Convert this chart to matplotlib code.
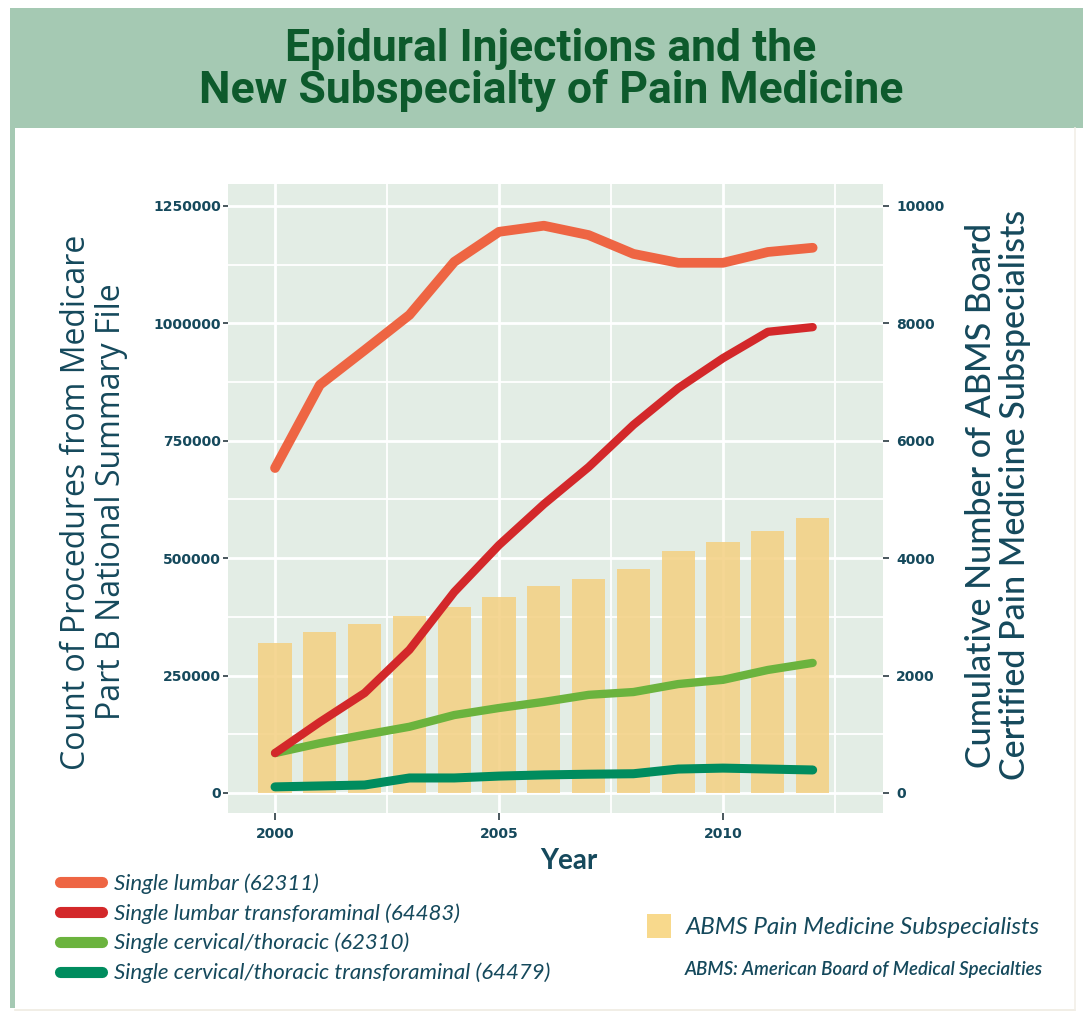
import matplotlib
matplotlib.use("Agg")
import matplotlib.pyplot as plt
from matplotlib.patches import Rectangle, Patch
from matplotlib.lines import Line2D

# ---------------- data ----------------
years = [2000, 2001, 2002, 2003, 2004, 2005, 2006, 2007, 2008, 2009, 2010, 2011, 2012]
single_lumbar = [692000, 869000, 943000, 1018000, 1131000, 1195000, 1208000,
                 1188000, 1148000, 1129000, 1129000, 1152000, 1161000]
lumbar_transforaminal = [85000, 151000, 213000, 305000, 428000, 528000, 615000,
                         694000, 784000, 862000, 926000, 982000, 992000]
cervical_thoracic = [85000, 106000, 124000, 141000, 166000, 181000, 194000,
                     209000, 215000, 232000, 241000, 262000, 277000]
cervical_transforaminal = [13000, 15000, 17000, 32000, 32000, 36000, 38500,
                           40000, 41000, 51000, 53000, 51000, 49000]
abms_subspecialists = [2555, 2743, 2879, 3015, 3169, 3339, 3526,
                       3646, 3816, 4123, 4276, 4463, 4685]

series_labels = ["Single lumbar (62311)",
                 "Single lumbar transforaminal (64483)",
                 "Single cervical/thoracic (62310)",
                 "Single cervical/thoracic transforaminal (64479)"]
bar_label = "ABMS Pain Medicine Subspecialists"
left_ticks = [0, 250000, 500000, 750000, 1000000, 1250000]
right_ticks = [0, 2000, 4000, 6000, 8000, 10000]
x_ticks = [2000, 2005, 2010]

# ---------------- style ----------------
C_ORANGE = "#EE6543"
C_RED = "#D3282A"
C_LGREEN = "#6BB33E"
C_DGREEN = "#008C5E"
C_BAR = "#F4D185"
C_PANEL = "#E3EDE5"
C_BAND = "#A5C9B3"
C_TITLE = "#0D5A2C"
C_TEXT = "#15495C"

W, H = 1083, 1014
fig = plt.figure(figsize=(W / 100, H / 100), dpi=100)
fig.patch.set_facecolor("white")

# frame decoration
fig.add_artist(Rectangle((10 / W, 1 - 128 / H), 1 - 10 / W, 120 / H,
                         transform=fig.transFigure, facecolor=C_BAND, edgecolor="none", zorder=0))
fig.add_artist(Rectangle((10 / W, 1 - 1008 / H), 5 / W, (1008 - 128) / H,
                         transform=fig.transFigure, facecolor=C_BAND, edgecolor="none", zorder=0))
fig.add_artist(Line2D([15 / W, 1075 / W], [1 - 1010 / H, 1 - 1010 / H],
                      transform=fig.transFigure, color="#EFEBE2", lw=1.2))
fig.add_artist(Line2D([1075 / W, 1075 / W], [1 - 128 / H, 1 - 1010 / H],
                      transform=fig.transFigure, color="#F2EFE8", lw=1.2))

fig.text(551 / W, 1 - 70 / H, "Epidural Injections and the\nNew Subspecialty of Pain Medicine",
         ha="center", va="center", fontsize=32, fontweight="bold", color=C_TITLE,
         family=["Roboto", "DejaVu Sans"], linespacing=0.98)

# axes
left, right_px, top, bottom = 228, 883, 184, 813
ax2 = fig.add_axes([left / W, 1 - bottom / H, (right_px - left) / W, (bottom - top) / H])
ax = ax2.twinx()
ax2.yaxis.tick_right()
ax.yaxis.tick_left()
ax.yaxis.set_label_position("left")
ax2.yaxis.set_label_position("right")
ax.set_zorder(2)
ax.patch.set_visible(False)
ax2.set_zorder(1)
ax2.set_facecolor(C_PANEL)

xlim = (1998.95, 2013.57)
ylim = (-42600, 1296800)
ax2.set_xlim(*xlim)
ax.set_ylim(*ylim)
ax2.set_ylim(ylim[0] / 125, ylim[1] / 125)

for a in (ax, ax2):
    for s in a.spines.values():
        s.set_visible(False)

ax2.set_xticks(x_ticks)
ax2.set_xticks([2002.5, 2007.5, 2012.5], minor=True)
ax2.set_yticks(right_ticks)
ax2.set_yticks([1000, 3000, 5000, 7000, 9000], minor=True)
ax2.grid(True, which="major", color="white", lw=2.0)
ax2.grid(True, which="minor", color="white", lw=1.3)
ax2.set_axisbelow(True)

ax2.bar(years, abms_subspecialists, width=0.74, color=C_BAR, alpha=0.88, zorder=2)

ax.plot(years, cervical_transforaminal, color=C_DGREEN, lw=6.5,
        solid_capstyle="round", solid_joinstyle="round", zorder=3)
ax.plot(years, cervical_thoracic, color=C_LGREEN, lw=6,
        solid_capstyle="round", solid_joinstyle="round", zorder=4)
ax.plot(years, lumbar_transforaminal, color=C_RED, lw=6,
        solid_capstyle="round", solid_joinstyle="round", zorder=5)
ax.plot(years, single_lumbar, color=C_ORANGE, lw=7,
        solid_capstyle="round", solid_joinstyle="round", zorder=6)

ax.set_yticks(left_ticks)
ax.set_yticklabels([str(v) for v in left_ticks])
ax2.set_yticklabels([str(v) for v in right_ticks])
ax2.set_xticklabels([str(v) for v in x_ticks])
ax.tick_params(axis="x", which="both", bottom=False, top=False,
               labelbottom=False, labeltop=False)

for lab in ax.get_yticklabels() + ax2.get_yticklabels() + ax2.get_xticklabels():
    lab.set_fontsize(10)
    lab.set_fontweight("bold")
    lab.set_color(C_TEXT)
ax.tick_params(axis="y", length=3.5, width=1.3, color="#3A4A50", pad=1.5)
ax2.tick_params(axis="y", which="major", length=4.5, width=1.3, color="#3A4A50", pad=5)
ax2.tick_params(axis="x", which="major", length=5, width=1.3, color="#3A4A50", pad=5)
ax2.tick_params(which="minor", length=0)

ax.set_ylabel("Count of Procedures from Medicare\nPart B National Summary File",
              fontsize=23, color=C_TEXT, family=["Open Sans", "DejaVu Sans"],
              va="center", ha="center", linespacing=1.05)
ax.yaxis.set_label_coords((94 - left) / (right_px - left), (bottom - 502) / (bottom - top))
ax2.set_ylabel("Cumulative Number of ABMS Board\nCertified Pain Medicine Subspecialists",
               fontsize=24.5, color=C_TEXT, family=["Lato", "DejaVu Sans"], fontweight="medium",
               va="center", ha="center", rotation=90, linespacing=1.05)
ax2.yaxis.set_label_coords((998 - left) / (right_px - left), (bottom - 495) / (bottom - top))
ax2.set_xlabel("Year", fontsize=20, fontweight="bold", color=C_TEXT,
               family=["Lato", "DejaVu Sans"], va="center")
ax2.xaxis.set_label_coords((569 - left) / (right_px - left), (bottom - 861) / (bottom - top))

# legends
line_colors = [C_ORANGE, C_RED, C_LGREEN, C_DGREEN]
handles = [Line2D([0], [0], color=c, lw=8, solid_capstyle="round") for c in line_colors]
leg1 = fig.legend(handles, series_labels, loc="upper left",
                  bbox_to_anchor=(60 / W, 1 - 873 / H), frameon=False,
                  prop={"family": ["Lato", "DejaVu Sans"], "style": "italic", "size": 16},
                  handlelength=1.9, handletextpad=0.55, labelspacing=0.42,
                  borderpad=0, borderaxespad=0)
for t in leg1.get_texts():
    t.set_color(C_TEXT)

leg2 = fig.legend([Patch(facecolor="#F8D98C", edgecolor="none")], [bar_label],
                  loc="center left", bbox_to_anchor=(647 / W, 1 - 926 / H), frameon=False,
                  prop={"family": ["Lato", "DejaVu Sans"], "style": "italic", "size": 17.4},
                  handlelength=1.0, handleheight=1.15, handletextpad=0.6,
                  borderpad=0, borderaxespad=0)
for t in leg2.get_texts():
    t.set_color(C_TEXT)

fig.text(1043 / W, 1 - 970 / H, "ABMS: American Board of Medical Specialties",
         ha="right", va="center", fontsize=13.4, style="italic", fontweight="semibold",
         color=C_TEXT, family=["Lato", "DejaVu Sans"])

fig.savefig("out.png", dpi=100)
